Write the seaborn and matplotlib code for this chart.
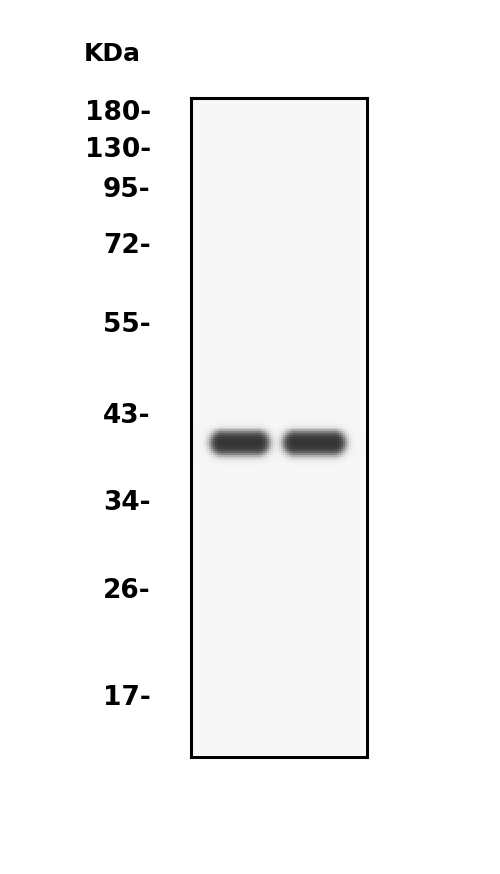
import numpy as np
import matplotlib
matplotlib.use("Agg")
import matplotlib.pyplot as plt
import seaborn as sns

# Marker ladder (kDa) and its migration as fraction of the membrane height
marker_kda = [180, 130, 95, 72, 55, 43, 34, 26, 17]
marker_rf = [0.018, 0.074, 0.135, 0.220, 0.340, 0.478, 0.610, 0.744, 0.906]

# Detected bands: one per lane
lanes = ["Lane 1", "Lane 2"]
lane_center = [0.278, 0.701]      # fraction of membrane width
band_rf = [0.524, 0.524]          # migration fraction (~39 kDa)
band_width = [0.335, 0.355]       # fraction of membrane width
band_height = [0.036, 0.036]      # fraction of membrane height
band_intensity = [0.76, 0.76]

background = 0.965
W_PX, H_PX = 176, 659
n_rows, n_cols = 330, 88

# render membrane image from the band table (pixel units for the blur)
yy = (np.arange(n_rows) + 0.5) / n_rows * H_PX
xx = (np.arange(n_cols) + 0.5) / n_cols * W_PX
X, Y = np.meshgrid(xx, yy)
dark = np.zeros_like(X)
for xc, rf, w, h, amp in zip(lane_center, band_rf, band_width, band_height, band_intensity):
    a = w * W_PX / 2
    b = h * H_PX / 2
    dx = np.maximum(np.abs(X - xc * W_PX) - (a - b), 0)
    dy = Y - rf * H_PX
    d = np.sqrt(dx ** 2 + dy ** 2) - b
    dark += amp * 0.5 * (1 - np.tanh(d / 4.5))
img = np.clip(background - dark, 0, 1)
# thin light rim inside the frame
img[:, 0] = img[:, -1] = 1.0
img[0, :] = img[-1, :] = 1.0

fig = plt.figure(figsize=(5, 8.74), dpi=100)
ax = fig.add_axes([191 / 500, 117 / 874, 176 / 500, 659 / 874])
sns.heatmap(img, ax=ax, cmap="gray", vmin=0, vmax=1, cbar=False,
            xticklabels=False, yticklabels=False)

for s in ax.spines.values():
    s.set_visible(True)
    s.set_linewidth(2.2)
    s.set_color("black")

ax.set_xticks([])
ax.set_yticks([r * n_rows for r in marker_rf])
ax.set_yticklabels([f"{k}-" for k in marker_kda], fontsize=19, fontweight="bold",
                   family=["DejaVu Sans"])
ax.tick_params(axis="y", length=0, pad=29)

fig.text(112 / 500, 1 - 54 / 874, "KDa", fontsize=18, fontweight="bold",
         ha="center", va="center", family=["DejaVu Sans"])

fig.savefig("out.png", dpi=100, facecolor="white")
